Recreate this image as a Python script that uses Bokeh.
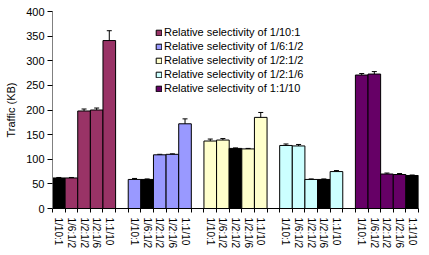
from bokeh.plotting import figure
from bokeh.models import (ColumnDataSource, Range1d, FixedTicker, Whisker, TeeHead,
                          Legend, LegendItem)
from bokeh.embed import file_html
from bokeh.resources import INLINE

labels = ["1/10:1", "1/6:1/2", "1/2:1/2", "1/2:1/6", "1:1/10"]
series_names = ["Relative selectivity of 1/10:1", "Relative selectivity of 1/6:1/2",
                "Relative selectivity of 1/2:1/2", "Relative selectivity of 1/2:1/6",
                "Relative selectivity of 1:1/10"]
colors = ["#993366", "#9999FF", "#FFFFCC", "#CCFFFF", "#660066"]
values = [
    [62, 62, 198, 200, 341],
    [59, 59, 109, 110, 172],
    [137, 139, 122, 121, 185],
    [128, 127, 59, 59, 75],
    [271, 273, 70, 69, 67],
]
errors = [
    [1, 1, 4, 4, 20],
    [2, 1, 1, 1, 10],
    [4, 3, 1, 1, 10],
    [3, 3, 1, 1, 2],
    [3, 5, 2, 2, 1],
]

FONT = "Liberation Sans"
n = len(labels)
slot = n + 1

p = figure(width=421, height=251, output_backend="svg", toolbar_location=None,
           x_range=Range1d(-0.5, len(values) * slot - 1.5), y_range=Range1d(0, 400),
           min_border_left=52, min_border_right=3, min_border_top=11, min_border_bottom=30)
p.outline_line_color = None
p.xgrid.visible = False
p.ygrid.visible = False
p.background_fill_color = "white"
p.border_fill_color = "white"

renderers = []
tick_pos, tick_lab = [], {}
for g, (vals, errs) in enumerate(zip(values, errors)):
    xs = [g * slot + i for i in range(n)]
    for x, lab in zip(xs, labels):
        tick_pos.append(x)
        tick_lab[x] = lab
    fills = ["black" if i == g else colors[g] for i in range(n)]
    src = ColumnDataSource(dict(x=xs, top=vals, fill=fills,
                                up=[v + e for v, e in zip(vals, errs)],
                                lo=[v - e for v, e in zip(vals, errs)]))
    p.vbar(x="x", top="top", width=1.0, bottom=0, source=src,
           fill_color="fill", line_color="black", line_width=1)
    proxy = p.vbar(x=[0], top=[0], width=0, fill_color=colors[g], line_color="black",
                   line_width=1, visible=False)
    renderers.append(proxy)
    p.add_layout(Whisker(base="x", upper="up", lower="lo", source=src,
                         line_color="black", line_width=1,
                         upper_head=TeeHead(size=5, line_color="black", line_width=1),
                         lower_head=TeeHead(size=5, line_color="black", line_width=1)))

minor = [k - 0.5 for k in range(len(values) * slot)]
p.xaxis.ticker = FixedTicker(ticks=tick_pos, minor_ticks=minor)
p.xaxis.major_label_overrides = tick_lab
p.xaxis.major_label_orientation = "vertical"
p.xaxis.major_tick_line_color = None
p.xaxis.major_tick_out = 0
p.xaxis.major_tick_in = 0
p.xaxis.minor_tick_out = 4
p.xaxis.minor_tick_in = 0
p.xaxis.minor_tick_line_color = "black"
p.xaxis.axis_line_color = "black"
p.xaxis.major_label_standoff = 5
p.xaxis.major_label_text_font = FONT
p.xaxis.major_label_text_font_size = "10px"
p.xaxis.major_label_text_color = "black"

p.yaxis.ticker = FixedTicker(ticks=list(range(0, 401, 50)))
p.yaxis.minor_tick_line_color = None
p.yaxis.major_tick_out = 5
p.yaxis.major_tick_in = 0
p.yaxis.major_tick_line_color = "black"
p.yaxis.axis_line_color = "#808080"
p.yaxis.major_label_text_font = FONT
p.yaxis.major_label_text_font_size = "11px"
p.yaxis.major_label_text_color = "black"
p.yaxis.major_label_standoff = 3
p.yaxis.axis_label = "Traffic (KB)"
p.yaxis.axis_label_text_font = FONT
p.yaxis.axis_label_text_font_size = "11px"
p.yaxis.axis_label_text_font_style = "normal"
p.yaxis.axis_label_text_color = "black"
p.yaxis.axis_label_standoff = 6

legend = Legend(items=[LegendItem(label=nm, renderers=[r]) for nm, r in zip(series_names, renderers)],
                location=(103, 113), border_line_color=None, background_fill_alpha=0,
                padding=0, margin=0, spacing=0, glyph_width=7, glyph_height=7,
                label_height=14, label_standoff=2, label_text_font=FONT,
                label_text_font_size="11px", label_text_color="black")
p.add_layout(legend)

open("out.html", "w").write(file_html(p, INLINE))
